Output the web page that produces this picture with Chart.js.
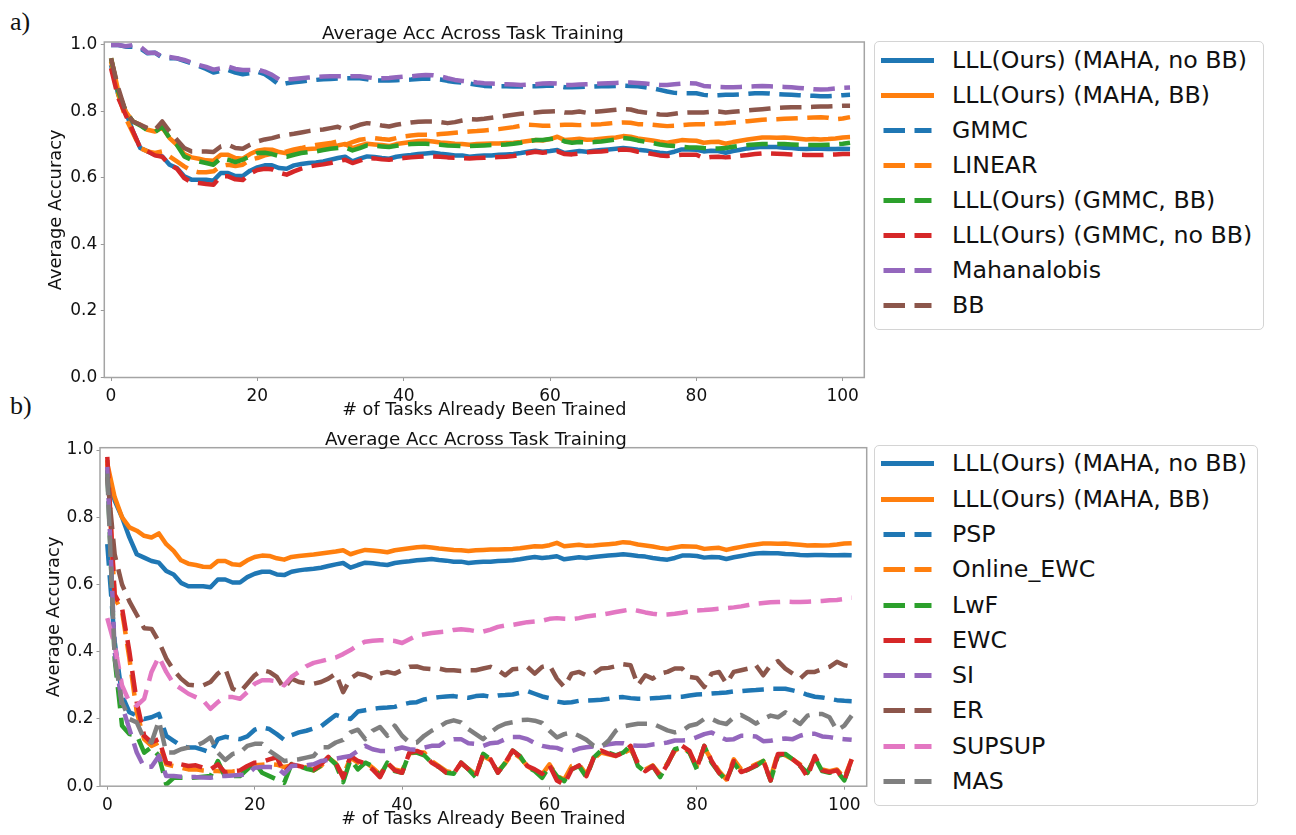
<!DOCTYPE html>
<html>
<head>
<meta charset="utf-8">
<script src="https://cdn.jsdelivr.net/npm/chart.js@4.4.0/dist/chart.umd.min.js"></script>
<style>
  html, body { margin: 0; padding: 0; background: #fff; }
  body { width: 1296px; height: 835px; position: relative; overflow: hidden; font-family: "DejaVu Sans", sans-serif; }
  canvas { position: absolute; left: 0; }
  .tag { position: absolute; left: 10px; font-family: "Liberation Serif", serif; font-size: 26px; line-height: 1; color: #111; }
  .legend { position: absolute; left: 874px; border: 1.5px solid #d4d4d4; border-radius: 5px; box-sizing: border-box; background: #fff; }
  .row { position: absolute; left: 0; height: 35px; width: 100%; }
  .row svg { position: absolute; left: 0; top: 0; }
  .row span { position: absolute; left: 77px; top: 0; line-height: 35px; font-size: 23.7px; color: #111; white-space: nowrap; }
</style>
</head>
<body>
<div class="tag" style="top:9px">a)</div>
<div class="tag" style="top:393px">b)</div>
<canvas id="chartA" width="870" height="430" style="top:0;width:870px;height:430px"></canvas>
<canvas id="chartB" width="870" height="420" style="top:415px;width:870px;height:420px"></canvas>
<div class="legend" id="legA" style="top:41px;width:390px;height:289px"></div>
<div class="legend" id="legB" style="top:445px;width:384px;height:361px"></div>
<script>
// x axis: number of tasks already trained
const tasks = Array.from({ length: 102 }, (_, i) => i);

// ---- panel a ----
const mahaNoBB = [
  0.94, 0.85, 0.80, 0.74, 0.69, 0.68, 0.67, 0.665, 0.64, 0.63,
  0.605, 0.595, 0.595, 0.595, 0.592, 0.615, 0.615, 0.606, 0.606, 0.622,
  0.632, 0.638, 0.638, 0.63, 0.628, 0.638, 0.642, 0.645, 0.647, 0.65,
  0.655, 0.66, 0.664, 0.65, 0.658, 0.665, 0.663, 0.66, 0.658, 0.664,
  0.667, 0.669, 0.672, 0.674, 0.676, 0.673, 0.671, 0.668, 0.668, 0.664,
  0.666, 0.668, 0.668, 0.67, 0.671, 0.672, 0.675, 0.679, 0.682, 0.679,
  0.681, 0.684, 0.675, 0.678, 0.681, 0.679, 0.682, 0.684, 0.686, 0.688,
  0.69, 0.688, 0.685, 0.683, 0.679, 0.676, 0.674, 0.679, 0.686, 0.686,
  0.685, 0.68, 0.682, 0.681, 0.676, 0.681, 0.685, 0.689, 0.692, 0.694,
  0.693, 0.693, 0.691, 0.69, 0.688, 0.687, 0.688, 0.688, 0.687, 0.687,
  0.688, 0.687
];
const mahaBB = [
  0.96, 0.86, 0.80, 0.77, 0.76, 0.745, 0.74, 0.752, 0.72, 0.70,
  0.672, 0.662, 0.658, 0.653, 0.652, 0.67, 0.67, 0.66, 0.658, 0.672,
  0.682, 0.686, 0.685, 0.678, 0.674, 0.682, 0.685, 0.687, 0.689, 0.692,
  0.695, 0.698, 0.702, 0.69, 0.697, 0.703, 0.701, 0.699, 0.696, 0.702,
  0.705, 0.708, 0.711, 0.712, 0.71, 0.707, 0.705, 0.703, 0.702, 0.70,
  0.702, 0.703, 0.704, 0.704, 0.705, 0.706, 0.708, 0.711, 0.714, 0.713,
  0.717, 0.724, 0.714, 0.716, 0.718, 0.715, 0.716, 0.718, 0.72, 0.722,
  0.726, 0.724, 0.719, 0.716, 0.713, 0.709, 0.706, 0.71, 0.714, 0.713,
  0.712, 0.706, 0.708, 0.709, 0.703, 0.708, 0.712, 0.716, 0.719, 0.722,
  0.722, 0.721, 0.722, 0.72, 0.718, 0.716, 0.717, 0.716, 0.717, 0.719,
  0.722, 0.723
];
const gmmc = [
  1.0, 1.0, 0.995, 0.995, 0.99, 0.975, 0.977, 0.962, 0.96, 0.96,
  0.952, 0.945, 0.937, 0.928, 0.917, 0.922, 0.925, 0.917, 0.912, 0.915,
  0.92, 0.912, 0.897, 0.88, 0.885, 0.888, 0.89, 0.893, 0.895, 0.897,
  0.898, 0.899, 0.9, 0.9, 0.9, 0.897, 0.893, 0.893, 0.893, 0.894,
  0.895, 0.896, 0.898, 0.899, 0.898, 0.896, 0.892, 0.889, 0.887, 0.884,
  0.88, 0.877, 0.876, 0.876, 0.876, 0.875, 0.875, 0.876, 0.876, 0.877,
  0.878, 0.877, 0.873, 0.873, 0.874, 0.875, 0.875, 0.876, 0.876, 0.877,
  0.878, 0.877, 0.876, 0.873, 0.87, 0.865, 0.86, 0.856, 0.855, 0.855,
  0.855, 0.85, 0.848, 0.849, 0.85, 0.85, 0.851, 0.853, 0.855, 0.855,
  0.854, 0.852, 0.851, 0.85, 0.849, 0.848, 0.847, 0.846, 0.846, 0.847,
  0.849, 0.85
];
const linear = [
  0.95, 0.85, 0.78, 0.735, 0.69, 0.68, 0.675, 0.68, 0.665, 0.65,
  0.635, 0.622, 0.617, 0.617, 0.62, 0.636, 0.64, 0.636, 0.64, 0.655,
  0.66, 0.668, 0.673, 0.676, 0.68, 0.686, 0.69, 0.695, 0.699, 0.702,
  0.705, 0.71, 0.70, 0.708, 0.715, 0.718, 0.72, 0.717, 0.715, 0.72,
  0.725, 0.728, 0.73, 0.73, 0.73, 0.732, 0.734, 0.736, 0.738, 0.74,
  0.741, 0.743, 0.745, 0.747, 0.75, 0.753, 0.757, 0.76, 0.759, 0.757,
  0.757, 0.759, 0.76, 0.76, 0.759, 0.76, 0.761, 0.762, 0.764, 0.766,
  0.767, 0.766, 0.762, 0.761, 0.76, 0.758, 0.756, 0.757, 0.759, 0.761,
  0.762, 0.762, 0.763, 0.764, 0.765, 0.767, 0.769, 0.771, 0.773, 0.775,
  0.776, 0.777, 0.778, 0.779, 0.78, 0.781, 0.782, 0.783, 0.781, 0.777,
  0.779, 0.783
];
const gmmcBB = [
  0.96, 0.86, 0.80, 0.77, 0.758, 0.743, 0.738, 0.755, 0.72, 0.70,
  0.665, 0.655, 0.65, 0.645, 0.64, 0.66, 0.655, 0.648, 0.655, 0.665,
  0.675, 0.676, 0.672, 0.666, 0.664, 0.67, 0.675, 0.678, 0.68, 0.684,
  0.688, 0.69, 0.692, 0.683, 0.69, 0.698, 0.697, 0.695, 0.693, 0.697,
  0.70, 0.702, 0.703, 0.703, 0.702, 0.70, 0.698, 0.697, 0.696, 0.696,
  0.697, 0.698, 0.699, 0.70, 0.701, 0.703, 0.706, 0.71, 0.714, 0.714,
  0.717, 0.72, 0.71, 0.706, 0.708, 0.707, 0.708, 0.71, 0.713, 0.716,
  0.72, 0.718, 0.713, 0.709, 0.705, 0.701, 0.698, 0.696, 0.694, 0.692,
  0.692, 0.69, 0.689, 0.689, 0.69, 0.694, 0.697, 0.699, 0.701, 0.702,
  0.702, 0.702, 0.702, 0.701, 0.70, 0.699, 0.699, 0.699, 0.70, 0.701,
  0.703, 0.706
];
const gmmcNoBB = [
  0.93, 0.84, 0.79, 0.74, 0.69, 0.68, 0.668, 0.664, 0.64, 0.628,
  0.60, 0.587, 0.585, 0.582, 0.58, 0.605, 0.605, 0.596, 0.594, 0.613,
  0.624, 0.628, 0.626, 0.616, 0.61, 0.62, 0.628, 0.634, 0.638, 0.641,
  0.645, 0.65, 0.655, 0.645, 0.652, 0.66, 0.659, 0.656, 0.655, 0.658,
  0.66, 0.662, 0.664, 0.665, 0.665, 0.664, 0.662, 0.661, 0.66, 0.659,
  0.66, 0.661, 0.662, 0.663, 0.664, 0.666, 0.67, 0.675, 0.679, 0.676,
  0.678, 0.68, 0.672, 0.671, 0.674, 0.677, 0.679, 0.68, 0.682, 0.684,
  0.686, 0.684, 0.679, 0.676, 0.672, 0.668, 0.666, 0.668, 0.67, 0.67,
  0.67, 0.66, 0.663, 0.664, 0.662, 0.664, 0.667, 0.669, 0.672, 0.674,
  0.674, 0.673, 0.672, 0.671, 0.67, 0.669, 0.669, 0.669, 0.67, 0.671,
  0.672, 0.672
];
const mahalanobis = [
  1.0, 1.0, 0.996, 1.0, 0.995, 0.977, 0.977, 0.965, 0.964, 0.96,
  0.955, 0.947, 0.94, 0.934, 0.926, 0.93, 0.935, 0.928, 0.925, 0.925,
  0.926, 0.92, 0.91, 0.896, 0.896, 0.898, 0.90, 0.902, 0.904, 0.905,
  0.906, 0.906, 0.906, 0.906, 0.906, 0.903, 0.90, 0.90, 0.901, 0.903,
  0.905, 0.906, 0.908, 0.91, 0.909, 0.906, 0.90, 0.895, 0.892, 0.89,
  0.887, 0.885, 0.884, 0.883, 0.882, 0.881, 0.88, 0.881, 0.882, 0.884,
  0.885, 0.884, 0.88, 0.88, 0.881, 0.882, 0.883, 0.884, 0.885, 0.886,
  0.887, 0.887, 0.886, 0.884, 0.882, 0.88, 0.88, 0.882, 0.884, 0.885,
  0.884, 0.877, 0.875, 0.874, 0.873, 0.873, 0.874, 0.875, 0.876, 0.877,
  0.876, 0.875, 0.874, 0.873, 0.871, 0.869, 0.867, 0.866, 0.867, 0.869,
  0.871, 0.872
];
const bb = [
  0.96, 0.87, 0.80, 0.77, 0.76, 0.75, 0.745, 0.77, 0.74, 0.715,
  0.69, 0.68, 0.68, 0.68, 0.678, 0.695, 0.70, 0.69, 0.688, 0.70,
  0.71, 0.716, 0.72, 0.726, 0.73, 0.733, 0.737, 0.741, 0.744, 0.746,
  0.75, 0.754, 0.745, 0.752, 0.76, 0.765, 0.762, 0.758, 0.755, 0.76,
  0.764, 0.767, 0.769, 0.77, 0.77, 0.768, 0.765, 0.768, 0.773, 0.777,
  0.776, 0.778, 0.781, 0.784, 0.787, 0.79, 0.793, 0.795, 0.797, 0.799,
  0.80, 0.801, 0.797, 0.797, 0.80, 0.796, 0.799, 0.801, 0.803, 0.805,
  0.807, 0.806, 0.80, 0.797, 0.794, 0.791, 0.79, 0.793, 0.796, 0.797,
  0.797, 0.797, 0.799, 0.80, 0.797, 0.799, 0.801, 0.803, 0.805, 0.807,
  0.809, 0.811, 0.812, 0.813, 0.813, 0.813, 0.814, 0.815, 0.815, 0.816,
  0.817, 0.817
];

// ---- panel b (first two series are the same runs as in panel a) ----
const psp = [
  0.72, 0.43, 0.27, 0.22, 0.21, 0.20, 0.205, 0.215, 0.15, 0.135,
  0.12, 0.115, 0.115, 0.108, 0.10, 0.14, 0.147, 0.143, 0.14, 0.148,
  0.168, 0.175, 0.17, 0.155, 0.138, 0.152, 0.16, 0.165, 0.172, 0.178,
  0.195, 0.212, 0.205, 0.20, 0.222, 0.226, 0.23, 0.233, 0.234, 0.236,
  0.243, 0.248, 0.25, 0.258, 0.262, 0.265, 0.267, 0.268, 0.265, 0.263,
  0.268, 0.27, 0.266, 0.27, 0.271, 0.273, 0.278, 0.283, 0.275, 0.267,
  0.262, 0.252, 0.248, 0.25, 0.254, 0.255, 0.256, 0.257, 0.26, 0.264,
  0.265, 0.262, 0.26, 0.26, 0.262, 0.263, 0.265, 0.265, 0.266, 0.27,
  0.273, 0.274, 0.276, 0.277, 0.279, 0.282, 0.283, 0.285, 0.286, 0.288,
  0.29, 0.29, 0.29, 0.285, 0.28, 0.272, 0.266, 0.264, 0.26, 0.256,
  0.254, 0.253
];
const onlineEwc = [
  0.97, 0.56, 0.52, 0.38, 0.22, 0.14, 0.12, 0.13, 0.065, 0.06,
  0.055, 0.05, 0.05, 0.047, 0.045, 0.045, 0.043, 0.044, 0.046, 0.058,
  0.062, 0.064, 0.066, 0.064, 0.057, 0.062, 0.06, 0.056, 0.047, 0.06,
  0.085, 0.068, 0.03, 0.085, 0.07, 0.072, 0.055, 0.035, 0.068, 0.05,
  0.045, 0.098, 0.10, 0.10, 0.075, 0.06, 0.045, 0.04, 0.068, 0.052,
  0.035, 0.09, 0.078, 0.045, 0.068, 0.10, 0.085, 0.06, 0.045, 0.035,
  0.065, 0.03, 0.02, 0.06, 0.065, 0.035, 0.082, 0.10, 0.095, 0.09,
  0.098, 0.11, 0.07, 0.05, 0.062, 0.035, 0.068, 0.105, 0.118, 0.10,
  0.06, 0.115, 0.078, 0.045, 0.02, 0.08, 0.05, 0.055, 0.065, 0.075,
  0.025, 0.10, 0.092, 0.08, 0.065, 0.04, 0.085, 0.05, 0.045, 0.05,
  0.025, 0.08
];
const lwf = [
  0.94, 0.38, 0.18, 0.155, 0.152, 0.10, 0.116, 0.09, 0.005, 0.025,
  0.025, 0.025, 0.026, 0.028, 0.03, 0.075, 0.027, 0.03, 0.03, 0.05,
  0.07, 0.04, 0.03, 0.02, 0.01, 0.066, 0.06, 0.052, 0.047, 0.062,
  0.086, 0.065, 0.012, 0.08, 0.05, 0.07, 0.06, 0.03, 0.07, 0.045,
  0.04, 0.10, 0.10, 0.092, 0.07, 0.057, 0.04, 0.037, 0.07, 0.05,
  0.027, 0.096, 0.08, 0.04, 0.07, 0.106, 0.09, 0.057, 0.045, 0.025,
  0.06, 0.03, 0.015, 0.05, 0.06, 0.027, 0.085, 0.106, 0.10, 0.092,
  0.10, 0.12, 0.06, 0.042, 0.06, 0.027, 0.065, 0.11, 0.116, 0.10,
  0.05, 0.12, 0.07, 0.04, 0.017, 0.07, 0.04, 0.05, 0.06, 0.075,
  0.017, 0.09, 0.096, 0.08, 0.06, 0.04, 0.085, 0.045, 0.04, 0.045,
  0.017, 0.075
];
const ewc = [
  0.98, 0.57, 0.53, 0.40, 0.25, 0.15, 0.13, 0.14, 0.07, 0.065,
  0.065, 0.06, 0.062, 0.055, 0.05, 0.065, 0.04, 0.045, 0.047, 0.06,
  0.07, 0.072, 0.08, 0.086, 0.04, 0.065, 0.06, 0.055, 0.05, 0.066,
  0.087, 0.07, 0.025, 0.09, 0.075, 0.068, 0.05, 0.027, 0.07, 0.047,
  0.04, 0.10, 0.105, 0.096, 0.07, 0.057, 0.04, 0.037, 0.07, 0.05,
  0.03, 0.096, 0.08, 0.04, 0.07, 0.106, 0.088, 0.06, 0.05, 0.037,
  0.062, 0.017, 0.005, 0.05, 0.062, 0.03, 0.085, 0.106, 0.097, 0.09,
  0.10, 0.12, 0.065, 0.045, 0.06, 0.03, 0.065, 0.11, 0.12, 0.105,
  0.055, 0.12, 0.075, 0.04, 0.015, 0.075, 0.042, 0.05, 0.062, 0.077,
  0.017, 0.096, 0.096, 0.08, 0.062, 0.027, 0.09, 0.047, 0.042, 0.047,
  0.017, 0.08
];
const si = [
  0.95, 0.40, 0.24, 0.17, 0.10, 0.057, 0.058, 0.09, 0.03, 0.03,
  0.028, 0.027, 0.027, 0.026, 0.025, 0.03, 0.03, 0.032, 0.033, 0.035,
  0.055, 0.057, 0.057, 0.056, 0.037, 0.06, 0.062, 0.062, 0.065, 0.075,
  0.078, 0.082, 0.086, 0.09, 0.105, 0.12, 0.11, 0.105, 0.105, 0.11,
  0.115, 0.11, 0.108, 0.115, 0.12, 0.12, 0.135, 0.14, 0.14, 0.128,
  0.126, 0.12, 0.128, 0.13, 0.14, 0.146, 0.146, 0.14, 0.128, 0.12,
  0.116, 0.114, 0.106, 0.104, 0.112, 0.116, 0.118, 0.12, 0.125, 0.128,
  0.128, 0.122, 0.12, 0.12, 0.124, 0.126, 0.13, 0.136, 0.136, 0.138,
  0.146, 0.155, 0.16, 0.148, 0.138, 0.14, 0.15, 0.15, 0.148, 0.134,
  0.135, 0.14, 0.142, 0.14, 0.15, 0.156, 0.156, 0.148, 0.146, 0.142,
  0.14, 0.138
];
const er = [
  0.92, 0.69, 0.60, 0.55, 0.51, 0.47, 0.468, 0.43, 0.38, 0.345,
  0.32, 0.302, 0.30, 0.30, 0.31, 0.335, 0.35, 0.29, 0.28, 0.305,
  0.33, 0.345, 0.34, 0.325, 0.29, 0.32, 0.31, 0.306, 0.305, 0.31,
  0.32, 0.335, 0.28, 0.32, 0.335, 0.33, 0.32, 0.335, 0.34, 0.335,
  0.345, 0.355, 0.356, 0.35, 0.348, 0.35, 0.345, 0.345, 0.343, 0.345,
  0.345, 0.35, 0.355, 0.345, 0.33, 0.348, 0.35, 0.355, 0.335, 0.355,
  0.36, 0.32, 0.295, 0.335, 0.34, 0.33, 0.335, 0.35, 0.352, 0.357,
  0.363, 0.36, 0.30, 0.33, 0.32, 0.335, 0.34, 0.35, 0.35, 0.325,
  0.322, 0.295, 0.335, 0.34, 0.305, 0.34, 0.345, 0.35, 0.36, 0.33,
  0.36, 0.372, 0.35, 0.335, 0.32, 0.34, 0.34, 0.348, 0.355, 0.37,
  0.36, 0.355
];
const supsup = [
  0.50, 0.42, 0.30, 0.25, 0.24, 0.26, 0.34, 0.385, 0.34, 0.305,
  0.29, 0.275, 0.265, 0.255, 0.23, 0.25, 0.265, 0.265, 0.26, 0.28,
  0.305, 0.315, 0.315, 0.312, 0.30, 0.325, 0.34, 0.357, 0.367, 0.372,
  0.378, 0.383, 0.393, 0.405, 0.42, 0.43, 0.433, 0.434, 0.434, 0.432,
  0.426, 0.437, 0.448, 0.452, 0.456, 0.458, 0.46, 0.465, 0.467, 0.465,
  0.461, 0.46, 0.466, 0.474, 0.478, 0.48, 0.484, 0.488, 0.49, 0.492,
  0.498, 0.50, 0.498, 0.497, 0.50, 0.505, 0.508, 0.51, 0.514, 0.518,
  0.522, 0.526, 0.522, 0.517, 0.513, 0.51, 0.511, 0.513, 0.516, 0.52,
  0.523, 0.524, 0.526, 0.528, 0.53, 0.532, 0.535, 0.539, 0.543, 0.545,
  0.547, 0.548, 0.549, 0.548, 0.548, 0.549, 0.55, 0.551, 0.553, 0.554,
  0.557, 0.561
];
const mas = [
  0.93, 0.38, 0.25, 0.20, 0.19, 0.14, 0.13, 0.195, 0.10, 0.10,
  0.11, 0.115, 0.12, 0.13, 0.145, 0.10, 0.078, 0.096, 0.10, 0.12,
  0.126, 0.126, 0.105, 0.09, 0.075, 0.078, 0.08, 0.085, 0.09, 0.116,
  0.116, 0.13, 0.138, 0.16, 0.168, 0.14, 0.165, 0.176, 0.15, 0.18,
  0.15, 0.13, 0.13, 0.15, 0.165, 0.176, 0.19, 0.196, 0.19, 0.17,
  0.155, 0.14, 0.16, 0.176, 0.186, 0.19, 0.197, 0.198, 0.195, 0.188,
  0.165, 0.145, 0.155, 0.16, 0.15, 0.138, 0.12, 0.116, 0.135, 0.165,
  0.178, 0.182, 0.186, 0.186, 0.186, 0.176, 0.166, 0.16, 0.165, 0.18,
  0.185, 0.20, 0.20, 0.19, 0.185, 0.205, 0.212, 0.20, 0.186, 0.20,
  0.21, 0.205, 0.22, 0.20, 0.185, 0.21, 0.215, 0.215, 0.205, 0.166,
  0.18, 0.21
];

const labelsA = ['LLL(Ours) (MAHA, no BB)', 'LLL(Ours) (MAHA, BB)', 'GMMC', 'LINEAR',
  'LLL(Ours) (GMMC, BB)', 'LLL(Ours) (GMMC, no BB)', 'Mahanalobis', 'BB'];
const seriesA = [mahaNoBB, mahaBB, gmmc, linear, gmmcBB, gmmcNoBB, mahalanobis, bb];
const colorsA = ['#1f77b4', '#ff7f0e', '#1f77b4', '#ff7f0e', '#2ca02c', '#d62728', '#9467bd', '#8c564b'];
const dashedA = [false, false, true, true, true, true, true, true];

const labelsB = ['LLL(Ours) (MAHA, no BB)', 'LLL(Ours) (MAHA, BB)', 'PSP', 'Online_EWC',
  'LwF', 'EWC', 'SI', 'ER', 'SUPSUP', 'MAS'];
const seriesB = [mahaNoBB, mahaBB, psp, onlineEwc, lwf, ewc, si, er, supsup, mas];
const colorsB = ['#1f77b4', '#ff7f0e', '#1f77b4', '#ff7f0e', '#2ca02c', '#d62728', '#9467bd', '#8c564b', '#e377c2', '#7f7f7f'];
const dashedB = [false, false, true, true, true, true, true, true, true, true];

const titleText = 'Average Acc Across Task Training';
const DASH = [21.5, 9.5];
const LW = 4.5;

// axes frame (all four spines) + title centred like the original figure
const framePlugin = {
  id: 'frame',
  afterDraw(chart, args, opts) {
    const { ctx, chartArea: a } = chart;
    ctx.save();
    ctx.strokeStyle = '#a4a4a4';
    ctx.lineWidth = 1.5;
    ctx.strokeRect(a.left, a.top, a.right - a.left, a.bottom - a.top);
    ctx.fillStyle = '#111';
    ctx.font = '18.3px "DejaVu Sans"';
    ctx.textAlign = 'center';
    ctx.textBaseline = 'alphabetic';
    ctx.fillText(opts.title, opts.titleX, opts.titleY);
    ctx.restore();
  }
};

function makeChart(id, series, colors, dashed, p) {
  const n = series.length;
  const datasets = series.map((d, i) => ({
    data: d,
    borderColor: colors[i],
    borderWidth: LW,
    borderDash: dashed[i] ? DASH : [],
    borderJoinStyle: 'round',
    pointRadius: 0,
    tension: 0,
    order: n - 1 - i
  }));
  const font = (s) => ({ family: 'DejaVu Sans', size: s });
  return new Chart(document.getElementById(id), {
    type: 'line',
    data: { labels: tasks, datasets },
    plugins: [framePlugin],
    options: {
      responsive: false,
      animation: false,
      layout: { padding: { left: 0, right: p.padRight, top: p.padTop, bottom: 0 } },
      plugins: {
        legend: { display: false },
        tooltip: { enabled: false },
        frame: { title: titleText, titleX: p.titleX, titleY: p.titleY }
      },
      scales: {
        x: {
          type: 'linear',
          min: p.xMin, max: p.xMax,
          afterFit: (s) => { s.height = p.xHeight; },
          border: { display: false },
          grid: { drawOnChartArea: false, drawTicks: true, tickLength: 3.5, color: '#999' },
          ticks: { stepSize: 20, includeBounds: false, font: font(17), color: '#111', padding: p.xTickPad, maxRotation: 0 },
          title: { display: true, text: '# of Tasks Already Been Trained', font: font(17.7), color: '#111', padding: { top: 0, bottom: p.xTitlePad } }
        },
        y: {
          min: 0, max: p.yMax,
          afterFit: (s) => { s.width = p.yWidth; },
          border: { display: false },
          grid: { drawOnChartArea: false, drawTicks: true, tickLength: 3.5, color: '#999' },
          ticks: { stepSize: 0.2, includeBounds: false, font: font(17), color: '#111', padding: p.yTickPad,
            callback: (v) => v.toFixed(1) },
          title: { display: true, text: 'Average Accuracy', font: font(17.9), color: '#111', padding: { top: p.yTitlePad, bottom: 0 } }
        }
      }
    }
  });
}

makeChart('chartA', seriesA, colorsA, dashedA, {
  padRight: 5.7, padTop: 42, titleX: 473, titleY: 38.5,
  xMin: -0.92, xMax: 102.95, xHeight: 52.5, xTickPad: 5, xTitlePad: 9,
  yMax: 1.009, yWidth: 104.3, yTickPad: 3.5, yTitlePad: 45.5
});
makeChart('chartB', seriesB, colorsB, dashedB, {
  padRight: 3.3, padTop: 32.7, titleX: 476, titleY: 30,
  xMin: -0.99, xMax: 103.04, xHeight: 48.8, xTickPad: 5.5, xTitlePad: 4.5,
  yMax: 1.007, yWidth: 100, yTickPad: 3, yTitlePad: 44
});

// legends
function buildLegend(id, labels, colors, dashed, firstY, step) {
  const box = document.getElementById(id);
  labels.forEach((text, i) => {
    const row = document.createElement('div');
    row.className = 'row';
    row.style.top = (firstY + i * step - 17.5) + 'px';
    const dash = dashed[i] ? ` stroke-dasharray="${DASH.join(' ')}" stroke-linecap="butt"` : ' stroke-linecap="square"';
    row.innerHTML = `<svg width="64" height="35"><line x1="8.5" y1="17.5" x2="56.5" y2="17.5" stroke="${colors[i]}" stroke-width="5"${dash}/></svg><span>${text}</span>`;
    box.appendChild(row);
  });
}
buildLegend('legA', labelsA, colorsA, dashedA, 18.2, 35.1);
buildLegend('legB', labelsB, colorsB, dashedB, 17.8, 35.3);
</script>
</body>
</html>
